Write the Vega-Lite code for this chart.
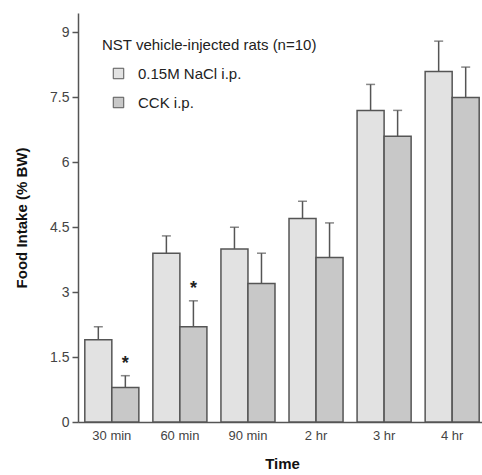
{
  "$schema": "https://vega.github.io/schema/vega-lite/v6.json",
  "width": 408,
  "height": 409,
  "padding": {"left": 14, "top": 13, "right": 0, "bottom": 5},
  "background": "white",
  "config": {
    "font": "Liberation Sans",
    "view": {"stroke": null},
    "axis": {"labelFont": "Liberation Sans", "titleFont": "Liberation Sans", "grid": false}
  },
  "data": {
    "values": [
      {"time": "30 min", "group": "0.15M NaCl i.p.", "mean": 1.9, "upper": 2.2, "sig": ""},
      {"time": "30 min", "group": "CCK i.p.", "mean": 0.8, "upper": 1.07, "sig": "*"},
      {"time": "60 min", "group": "0.15M NaCl i.p.", "mean": 3.9, "upper": 4.3, "sig": ""},
      {"time": "60 min", "group": "CCK i.p.", "mean": 2.2, "upper": 2.8, "sig": "*"},
      {"time": "90 min", "group": "0.15M NaCl i.p.", "mean": 4.0, "upper": 4.5, "sig": ""},
      {"time": "90 min", "group": "CCK i.p.", "mean": 3.2, "upper": 3.9, "sig": ""},
      {"time": "2 hr", "group": "0.15M NaCl i.p.", "mean": 4.7, "upper": 5.1, "sig": ""},
      {"time": "2 hr", "group": "CCK i.p.", "mean": 3.8, "upper": 4.6, "sig": ""},
      {"time": "3 hr", "group": "0.15M NaCl i.p.", "mean": 7.2, "upper": 7.8, "sig": ""},
      {"time": "3 hr", "group": "CCK i.p.", "mean": 6.6, "upper": 7.2, "sig": ""},
      {"time": "4 hr", "group": "0.15M NaCl i.p.", "mean": 8.1, "upper": 8.8, "sig": ""},
      {"time": "4 hr", "group": "CCK i.p.", "mean": 7.5, "upper": 8.2, "sig": ""}
    ]
  },
  "encoding": {
    "x": {
      "field": "time", "type": "nominal", "sort": null,
      "scale": {"paddingInner": 0.206, "paddingOuter": 0.1},
      "axis": {
        "title": "Time", "titleFontSize": 15, "titleFontWeight": "bold", "titleColor": "#111",
        "titlePadding": 14, "labelAngle": 0, "labelFontSize": 13, "labelColor": "#444",
        "labelPadding": 7, "ticks": false, "domainColor": "#555", "domainWidth": 1.5
      }
    },
    "xOffset": {"field": "group", "type": "nominal", "sort": null, "scale": {"paddingInner": 0, "paddingOuter": 0}}
  },
  "layer": [
    {
      "mark": {"type": "rule", "color": "#555", "strokeWidth": 1.5},
      "encoding": {
        "y": {"field": "mean", "type": "quantitative"},
        "y2": {"field": "upper"}
      }
    },
    {
      "mark": {"type": "tick", "color": "#555", "thickness": 1.5, "size": 9, "orient": "horizontal"},
      "encoding": {
        "y": {"field": "upper", "type": "quantitative"}
      }
    },
    {
      "mark": {"type": "bar", "stroke": "#555", "strokeWidth": 1.5},
      "encoding": {
        "y": {
          "field": "mean", "type": "quantitative",
          "scale": {"domain": [0, 9.45], "nice": false},
          "axis": {
            "title": "Food Intake (% BW)", "titleFontSize": 15, "titleFontWeight": "bold", "titleColor": "#111",
            "titlePadding": 20, "values": [0, 1.5, 3, 4.5, 6, 7.5, 9], "labelExpr": "'' + datum.value",
            "labelFontSize": 14, "labelColor": "#444", "tickSize": 6, "tickColor": "#555", "tickWidth": 1.5,
            "labelPadding": 3, "domainColor": "#555", "domainWidth": 1.5
          }
        },
        "fill": {
          "field": "group", "type": "nominal", "sort": null,
          "scale": {"range": ["#e2e2e2", "#c8c8c8"]},
          "legend": {
            "title": "NST vehicle-injected rats (n=10)", "orient": "none", "legendX": 24, "legendY": 25,
            "titleFontSize": 15, "titleFontWeight": "normal", "titleColor": "#222", "titlePadding": 13, "titleLimit": 400,
            "labelFontSize": 15, "labelColor": "#222", "labelLimit": 300, "symbolType": "square", "symbolSize": 110,
            "symbolStrokeColor": "#555", "symbolStrokeWidth": 1, "symbolOffset": 9, "rowPadding": 13, "labelOffset": 12
          }
        }
      }
    },
    {
      "mark": {"type": "text", "fontSize": 18, "fontWeight": "bold", "dy": -12, "baseline": "middle", "color": "#222"},
      "encoding": {
        "y": {"field": "upper", "type": "quantitative"},
        "text": {"field": "sig"}
      }
    }
  ]
}
